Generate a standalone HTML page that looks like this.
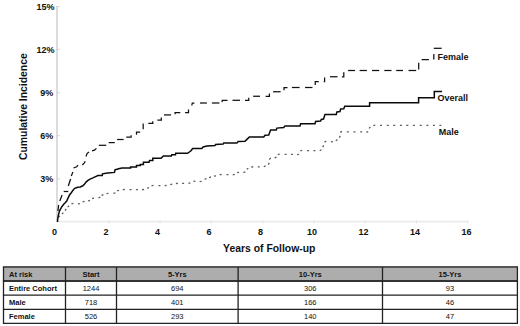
<!DOCTYPE html>
<html><head><meta charset="utf-8"><style>
html,body{margin:0;padding:0;background:#fff;}
svg{display:block;}
text{font-family:"Liberation Sans",sans-serif;fill:#111;}
.tk{font-size:9px;font-weight:bold;}
.ttl{font-size:10.4px;font-weight:bold;}
.lg{font-size:9px;font-weight:bold;}
.tb{font-size:7.5px;font-weight:bold;}
.tr{font-size:7.5px;}
</style></head><body>
<svg width="520" height="326" viewBox="0 0 520 326">
<rect width="520" height="326" fill="#fff"/>
<line x1="57" y1="6.6" x2="57" y2="222" stroke="#dcdcdc" stroke-width="2"/>
<line x1="56" y1="221.6" x2="468" y2="221.6" stroke="#ebebeb" stroke-width="1.8"/>
<text x="53.3" y="182.23" text-anchor="end" class="tk">3%</text>
<line x1="56" y1="178.83" x2="60" y2="178.83" stroke="#d4d4d4" stroke-width="1"/>
<text x="53.3" y="139.16" text-anchor="end" class="tk">6%</text>
<line x1="56" y1="135.76" x2="60" y2="135.76" stroke="#d4d4d4" stroke-width="1"/>
<text x="53.3" y="96.09" text-anchor="end" class="tk">9%</text>
<line x1="56" y1="92.69" x2="60" y2="92.69" stroke="#d4d4d4" stroke-width="1"/>
<text x="54.6" y="53.02" text-anchor="end" class="tk">12%</text>
<line x1="56" y1="49.62" x2="60" y2="49.62" stroke="#d4d4d4" stroke-width="1"/>
<text x="54.6" y="9.95" text-anchor="end" class="tk">15%</text>
<line x1="56" y1="6.55" x2="60" y2="6.55" stroke="#d4d4d4" stroke-width="1"/>
<text x="54.50" y="235.2" text-anchor="middle" class="tk">0</text>
<text x="106.00" y="235.2" text-anchor="middle" class="tk">2</text>
<line x1="108.78" y1="220.5" x2="108.78" y2="223.5" stroke="#e2e2e2" stroke-width="1"/>
<text x="157.50" y="235.2" text-anchor="middle" class="tk">4</text>
<line x1="160.06" y1="220.5" x2="160.06" y2="223.5" stroke="#e2e2e2" stroke-width="1"/>
<text x="209.00" y="235.2" text-anchor="middle" class="tk">6</text>
<line x1="211.34" y1="220.5" x2="211.34" y2="223.5" stroke="#e2e2e2" stroke-width="1"/>
<text x="260.50" y="235.2" text-anchor="middle" class="tk">8</text>
<line x1="262.62" y1="220.5" x2="262.62" y2="223.5" stroke="#e2e2e2" stroke-width="1"/>
<text x="312.00" y="235.2" text-anchor="middle" class="tk">10</text>
<line x1="313.90" y1="220.5" x2="313.90" y2="223.5" stroke="#e2e2e2" stroke-width="1"/>
<text x="363.50" y="235.2" text-anchor="middle" class="tk">12</text>
<line x1="365.18" y1="220.5" x2="365.18" y2="223.5" stroke="#e2e2e2" stroke-width="1"/>
<text x="415.00" y="235.2" text-anchor="middle" class="tk">14</text>
<line x1="416.46" y1="220.5" x2="416.46" y2="223.5" stroke="#e2e2e2" stroke-width="1"/>
<text x="466.50" y="235.2" text-anchor="middle" class="tk">16</text>
<line x1="467.74" y1="220.5" x2="467.74" y2="223.5" stroke="#e2e2e2" stroke-width="1"/>

<text transform="translate(27.4,106.65) rotate(-90)" text-anchor="middle" class="ttl">Cumulative Incidence</text>
<text x="269.25" y="252.3" text-anchor="middle" class="ttl">Years of Follow-up</text>
<path d="M58.35 217.26L59.85 215.94M62.01 214.13L63.39 212.67M64.97 210.48L66.23 208.92M67.65 206.96L69.15 205.64M71.43 203.94L73.37 203.46M77.92 203.88L79.88 203.52M82.64 201.89L84.56 201.31M88.16 200.93L90.04 200.27M92.04 198.59L93.96 198.01M98.46 197.83L100.34 197.17M101.60 195.44L103.40 194.56M106.51 193.66L108.49 193.34M113.44 193.36L115.36 192.84M117.16 190.95L119.04 190.25M122.75 189.68L124.75 189.52M129.60 189.60L131.60 189.60M135.90 189.60L137.90 189.60M142.11 189.75L144.09 189.45M147.18 188.29L149.02 187.51M151.52 185.80L153.48 185.40M158.40 185.60L160.40 185.60M164.61 185.70L166.59 185.50M170.27 184.59L172.23 184.21M175.90 183.48L177.90 183.32M182.10 183.42L184.10 183.38M188.42 183.28L190.38 182.92M193.41 181.44L195.39 181.16M199.62 181.71L201.58 181.29M204.69 179.31L206.51 178.49M209.04 177.54L210.96 176.96M214.03 176.24L215.97 175.76M219.61 174.71L221.59 174.49M226.50 174.60L228.50 174.60M232.77 174.79L234.73 174.41M237.12 172.72L239.08 172.28M243.47 172.62L245.33 171.88M246.67 169.31L248.33 168.19M251.26 167.06L253.24 166.74M257.75 166.95L259.75 166.85M263.80 166.55L265.70 165.95M268.18 164.57L269.32 162.93M269.26 159.42L270.74 158.08M274.70 157.95L276.50 157.05M277.79 154.70L279.71 154.10M284.60 154.40L286.60 154.40M290.90 154.40L292.90 154.40M297.17 154.78L299.03 154.02M300.32 150.96L302.18 150.24M307.10 150.60L309.10 150.60M313.40 150.63L315.40 150.57M319.71 150.65L321.49 149.75M322.71 147.07L323.69 145.33M324.51 142.05L326.29 141.15M330.91 141.92L332.89 141.68M335.76 140.74L337.44 139.66M339.32 137.58L340.28 135.82M340.24 132.41L341.96 131.39M346.80 131.90L348.80 131.90M353.50 131.90L355.50 131.90M360.20 131.90L362.20 131.90M366.40 132.34L368.20 131.46M368.97 128.38L370.43 127.02M373.32 125.60L375.28 125.20M380.00 125.40L382.00 125.40M386.80 125.40L388.80 125.40M393.20 125.40L395.20 125.40M399.90 125.40L401.90 125.40M406.30 125.40L408.30 125.40M412.90 125.40L414.90 125.40M419.70 125.40L421.70 125.40M426.40 125.40L428.40 125.40M432.90 125.40L434.90 125.40M439.40 125.40L441.40 125.40" fill="none" stroke="#5c5c5c" stroke-width="1.3"/>
<g fill="none" stroke="#111" stroke-width="1.25" stroke-linejoin="miter"><polyline points="57.95,211.00 58.00,210.40 58.60,205.40 58.71,205.02"/><polyline points="59.80,201.00 62.10,195.00"/><polyline points="63.70,191.50 68.30,191.50"/><polyline points="68.30,186.00 70.60,179.00"/><polyline points="71.30,176.00 72.90,172.00"/><polyline points="73.50,168.00 76.70,166.80 78.00,165.00"/><polyline points="82.30,165.00 84.10,163.10 85.30,161.30"/><polyline points="86.00,156.40 87.20,153.30 89.00,152.10"/><polyline points="92.00,150.90 94.50,150.20 96.40,148.40"/><polyline points="98.80,145.30 106.20,145.30"/><polyline points="108.70,142.60 114.80,142.60"/><polyline points="117.10,139.50 123.60,139.50"/><polyline points="126.30,137.00 131.10,137.00 131.10,135.20"/><polyline points="136.50,134.70 136.50,132.00 140.20,132.00"/><polyline points="143.20,129.30 143.20,123.40"/><polyline points="148.30,123.40 152.80,123.40 152.80,121.30"/><polyline points="157.40,120.20 161.30,120.20 161.30,117.50"/><polyline points="164.00,114.90 171.10,114.90"/><polyline points="175.10,114.30 175.10,112.50 180.30,112.50"/><polyline points="185.10,112.50 188.50,112.50 188.50,109.50"/><polyline points="191.80,105.50 192.30,103.00 194.40,103.00"/><polyline points="200.00,103.00 206.90,103.00"/><polyline points="211.90,103.00 219.40,103.00"/><polyline points="222.02,102.07 222.25,100.30 227.50,100.30"/><polyline points="232.50,100.30 240.00,100.30"/><polyline points="245.00,100.30 248.75,100.30 248.75,97.75"/><polyline points="253.10,96.25 260.00,96.25"/><polyline points="265.60,96.25 269.40,96.25 269.40,93.40"/><polyline points="273.10,91.75 280.60,91.75"/><polyline points="284.00,90.25 284.00,87.50 287.50,87.50"/><polyline points="291.90,87.50 299.60,87.50"/><polyline points="305.00,87.50 312.50,87.50"/><polyline points="315.25,84.90 315.25,81.50 318.75,81.50"/><polyline points="323.75,81.50 324.60,81.50 324.60,77.40"/><polyline points="330.00,76.75 337.50,76.75"/><polyline points="341.90,76.75 343.80,76.75 343.80,72.30"/><polyline points="348.10,70.50 355.00,70.50"/><polyline points="359.60,70.50 366.90,70.50"/><polyline points="372.00,70.50 379.20,70.50"/><polyline points="384.30,70.50 391.50,70.50"/><polyline points="396.20,70.50 403.00,70.50"/><polyline points="408.50,70.50 416.20,70.50"/><polyline points="418.70,69.40 418.70,62.70"/><polyline points="421.60,59.60 428.90,59.60"/><polyline points="433.80,59.60 433.80,54.10"/><polyline points="433.80,48.30 441.60,48.30"/></g>
<polyline points="57.50,222.00 57.60,220.00 58.30,215.70 59.40,211.10 61.40,207.30 63.70,204.20 65.20,202.70 66.70,201.10 68.00,198.10 69.50,195.00 71.30,192.70 72.90,190.40 74.40,188.60 77.50,187.30 80.20,186.90 82.80,185.80 84.60,183.90 86.00,182.10 88.30,180.20 90.10,179.10 92.90,177.90 95.60,176.60 97.90,175.60 102.30,175.60 102.50,173.80 107.60,172.90 114.50,172.40 115.00,169.90 118.60,168.70 122.00,167.90 130.60,167.90 130.60,166.90 136.50,166.90 136.50,165.60 140.30,165.60 140.30,164.40 143.40,164.40 143.40,162.20 149.00,162.20 149.50,160.60 152.80,160.60 152.80,158.30 161.00,158.30 163.40,155.90 171.40,155.90 171.80,154.80 175.50,154.80 175.70,153.30 187.60,153.30 191.00,150.80 192.60,148.50 201.90,148.50 203.10,146.90 206.90,146.00 215.00,145.60 215.60,144.40 223.10,144.10 223.75,143.10 236.90,143.10 238.10,141.60 245.00,141.25 246.90,139.40 249.40,136.90 263.75,136.90 265.00,135.25 268.75,135.00 270.60,130.00 276.25,130.00 276.90,128.10 283.75,127.50 285.00,125.90 300.00,125.90 300.60,123.75 315.00,123.75 315.60,121.50 320.60,121.00 321.25,119.40 323.50,119.00 325.00,114.40 336.25,114.40 336.90,111.90 340.00,111.50 340.60,109.00 343.75,108.75 344.75,106.25 369.60,106.25 369.60,102.80 418.60,102.80 418.60,97.80 434.30,97.80 434.30,91.50 442.00,91.50" fill="none" stroke="#0a0a0a" stroke-width="1.5"/>
<text x="437.5" y="59.9" class="lg">Female</text>
<text x="437.5" y="100.9" class="lg">Overall</text>
<text x="438.8" y="134.5" class="lg">Male</text>
<rect x="3.5" y="267.1" width="513.9" height="13.899999999999977" fill="#adadad"/>
<line x1="2.9" y1="267.1" x2="518.0" y2="267.1" stroke="#555" stroke-width="2"/>
<line x1="2.9" y1="281.0" x2="518.0" y2="281.0" stroke="#333" stroke-width="1.8"/>
<line x1="2.9" y1="295.1" x2="518.0" y2="295.1" stroke="#222" stroke-width="1.3"/>
<line x1="2.9" y1="309.4" x2="518.0" y2="309.4" stroke="#222" stroke-width="1.3"/>
<line x1="2.9" y1="323.3" x2="518.0" y2="323.3" stroke="#222" stroke-width="1.3"/>
<line x1="3.5" y1="267.1" x2="3.5" y2="323.3" stroke="#222" stroke-width="1.3"/>
<line x1="65.5" y1="267.1" x2="65.5" y2="323.3" stroke="#222" stroke-width="1.3"/>
<line x1="116.5" y1="267.1" x2="116.5" y2="323.3" stroke="#222" stroke-width="1.3"/>
<line x1="238.1" y1="267.1" x2="238.1" y2="323.3" stroke="#222" stroke-width="1.3"/>
<line x1="382.5" y1="267.1" x2="382.5" y2="323.3" stroke="#222" stroke-width="1.3"/>
<line x1="517.4" y1="267.1" x2="517.4" y2="323.3" stroke="#222" stroke-width="1.3"/>
<text x="9" y="276.75" class="tb">At risk</text>
<text x="91.00" y="276.75" text-anchor="middle" class="tb">Start</text>
<text x="177.30" y="276.75" text-anchor="middle" class="tb">5-Yrs</text>
<text x="310.30" y="276.75" text-anchor="middle" class="tb">10-Yrs</text>
<text x="449.95" y="276.75" text-anchor="middle" class="tb">15-Yrs</text>
<text x="9" y="290.75" class="tb">Entire Cohort</text>
<text x="91.00" y="290.75" text-anchor="middle" class="tr">1244</text>
<text x="177.30" y="290.75" text-anchor="middle" class="tr">694</text>
<text x="310.30" y="290.75" text-anchor="middle" class="tr">306</text>
<text x="449.95" y="290.75" text-anchor="middle" class="tr">93</text>
<text x="9" y="304.95" class="tb">Male</text>
<text x="91.00" y="304.95" text-anchor="middle" class="tr">718</text>
<text x="177.30" y="304.95" text-anchor="middle" class="tr">401</text>
<text x="310.30" y="304.95" text-anchor="middle" class="tr">166</text>
<text x="449.95" y="304.95" text-anchor="middle" class="tr">46</text>
<text x="9" y="319.05" class="tb">Female</text>
<text x="91.00" y="319.05" text-anchor="middle" class="tr">526</text>
<text x="177.30" y="319.05" text-anchor="middle" class="tr">293</text>
<text x="310.30" y="319.05" text-anchor="middle" class="tr">140</text>
<text x="449.95" y="319.05" text-anchor="middle" class="tr">47</text>

</svg>
</body></html>
